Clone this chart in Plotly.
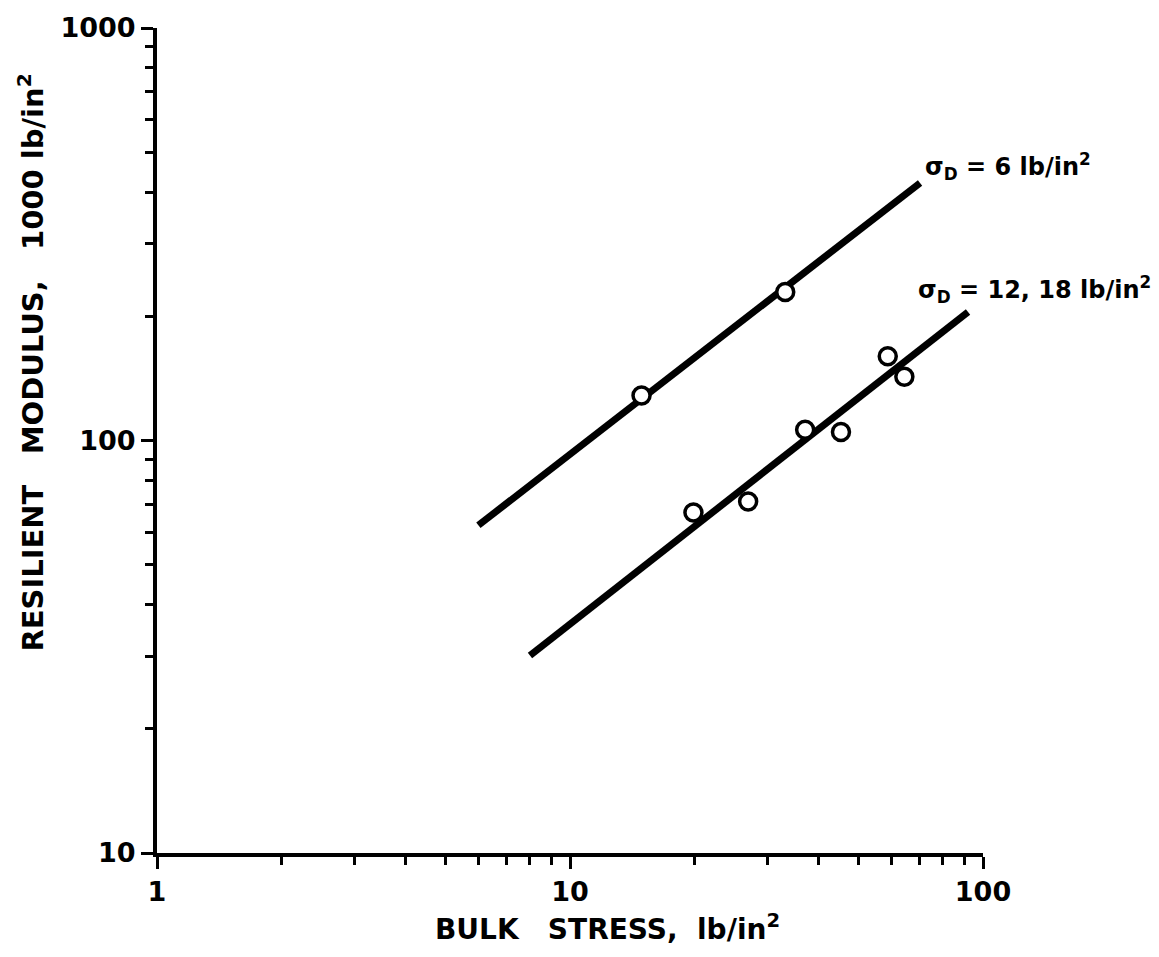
import plotly.graph_objects as go

# Measured points: bulk stress (lb/in^2) vs resilient modulus (1000 lb/in^2)
bulk_6 = [14.9, 33.2]
mr_6 = [128.5, 229]
bulk_12_18 = [19.9, 27.0, 37.1, 45.3, 58.8, 64.5]
mr_12_18 = [66.9, 71.1, 106.2, 104.8, 160, 142.7]

# Fitted lines (end points)
fit_6_x = [6.0, 70.4]
fit_6_y = [62.3, 421]
fit_12_18_x = [8.0, 92]
fit_12_18_y = [30.1, 205]

x_major = [1, 10, 100]
x_major_text = ["1", "10", "100"]
y_major = [10, 100, 1000]
y_major_text = ["10", "100", "1000"]
minor_vals = [m * d for d in (1, 10, 100) for m in range(2, 10)]

FONT = "DejaVu Sans"
INK = "black"

fig = go.Figure()
for fx, fy in ((fit_6_x, fit_6_y), (fit_12_18_x, fit_12_18_y)):
    fig.add_trace(go.Scatter(x=fx, y=fy, mode="lines",
                             line=dict(color=INK, width=7),
                             showlegend=False, hoverinfo="skip"))
for px, py in ((bulk_6, mr_6), (bulk_12_18, mr_12_18)):
    fig.add_trace(go.Scatter(x=px, y=py, mode="markers",
                             marker=dict(symbol="circle", size=17, color="white",
                                         line=dict(color=INK, width=3.5)),
                             showlegend=False))

axis_common = dict(
    type="log", showgrid=False, zeroline=False,
    showline=True, linecolor=INK, linewidth=4,
    ticks="outside", ticklen=12, tickwidth=3, tickcolor=INK,
    tickfont=dict(family=FONT, size=27, color=INK, weight="bold"),
    minor=dict(tickvals=minor_vals, ticks="outside", ticklen=8,
               tickwidth=2.5, tickcolor=INK, showgrid=False),
)
fig.update_xaxes(range=[0, 2], tickvals=x_major, ticktext=x_major_text, **axis_common)
fig.update_yaxes(range=[1, 3], tickvals=y_major, ticktext=y_major_text, **axis_common)

label_font = dict(family=FONT, size=24, color=INK, weight="bold")

fig.add_annotation(text="BULK   STRESS,  lb/in<sup>2</sup>", xref="paper", yref="paper",
                   x=0.545, y=-0.066, xanchor="center", yanchor="top", showarrow=False,
                   font=dict(family=FONT, size=28, color=INK, weight="bold"))
fig.add_annotation(text="RESILIENT   MODULUS,   1000 lb/in<sup>2</sup>",
                   xref="paper", yref="paper",
                   x=-0.152, y=0.595, xanchor="center", yanchor="middle", textangle=-90,
                   showarrow=False, font=dict(family=FONT, size=29, color=INK, weight="bold"))
fig.add_annotation(text="σ<sub>D</sub> = 6 lb/in<sup>2</sup>", x=1.855, y=2.665,
                   xanchor="left", yanchor="middle", showarrow=False,
                   font=label_font)
fig.add_annotation(text="σ<sub>D</sub> = 12, 18 lb/in<sup>2</sup>", x=1.838, y=2.365,
                   xanchor="left", yanchor="middle", showarrow=False,
                   font=label_font)

fig.update_layout(
    width=1159, height=957,
    margin=dict(l=157, r=176, t=22, b=104),
    plot_bgcolor="white", paper_bgcolor="white",
    font=dict(family=FONT, color=INK),
)

fig.write_html("out.html")
